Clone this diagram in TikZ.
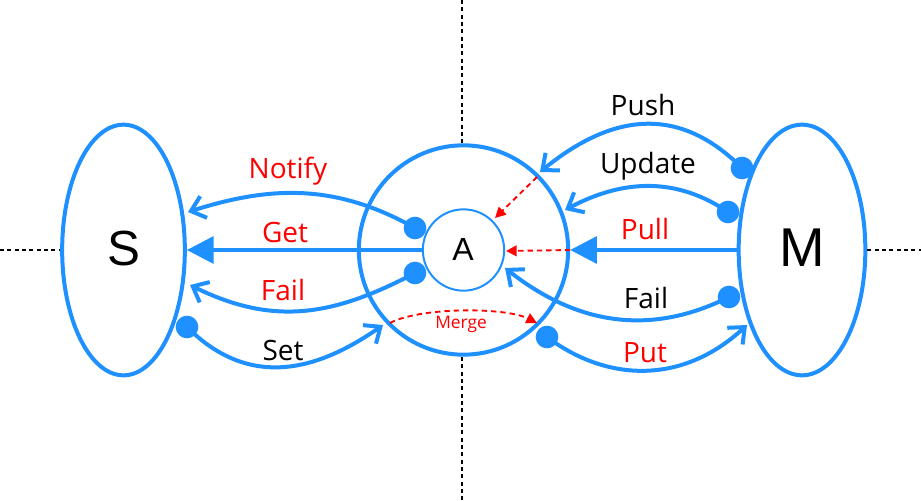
\documentclass[tikz,border=0pt]{standalone}
\usepackage{fontspec}
\setmainfont{Open Sans}
\newfontfamily\arialfont{Liberation Sans}
\usetikzlibrary{arrows.meta,shapes.geometric}
\definecolor{lblue}{RGB}{30,144,255}
\definecolor{lred}{RGB}{255,0,0}
\begin{document}
\begin{tikzpicture}[x=0.75pt,y=-0.75pt,
  bline/.style={draw=lblue,line width=3pt},
  openhead/.style={-{Straight Barb[length=10pt,width=17pt,line width=3pt]}},
  filledhead/.style={-{Triangle[length=20pt,width=20pt]}},
  reddash/.style={draw=lred,line width=1.4pt,dash pattern=on 4pt off 3pt,-{Triangle[length=8pt,width=8pt]}},
  blackdash/.style={draw=black,line width=1.1pt,dash pattern=on 3pt off 2.5pt},
  dotnode/.style={circle,fill=lblue,inner sep=0pt,minimum size=17pt},
  lbl/.style={font=\fontsize{21}{25}\selectfont,anchor=base,inner sep=0pt},
  redlbl/.style={lbl,text=lred},
  blacklbl/.style={lbl,text=black}
]
\useasboundingbox (0,0) rectangle (921,500);

% main shapes
\node[ellipse,bline,minimum width=92pt,minimum height=188pt,inner sep=0pt] (S) at (123.5,250) {};
\node[ellipse,bline,minimum width=95pt,minimum height=188pt,inner sep=0pt] (M) at (802,250) {};
\node[circle,bline,minimum size=157pt,inner sep=0pt] (O) at (463.5,250) {};
\node[circle,draw=lblue,line width=1.5pt,minimum size=61pt,inner sep=0pt] (A) at (463.5,250) {};

\node[anchor=base,inner sep=0pt,font=\arialfont\fontsize{37}{40}\selectfont] (St) at (124,265) {S};
\node[anchor=base,inner sep=0pt,font=\arialfont\fontsize{41}{44}\selectfont] (Mt) at (802,266) {M};
\node[anchor=base,inner sep=0pt,font=\arialfont\fontsize{24}{28}\selectfont] (At) at (463,260) {A};

% dashed axes
\coordinate (lt) at (0,250);
\coordinate (rt) at (921,250);
\coordinate (tp) at (462,0);
\coordinate (bt) at (462,500);
\draw[blackdash] (lt) -- (S.west);
\draw[blackdash] (M.east) -- (rt);
\draw[blackdash] (tp) -- (462,143);
\draw[blackdash] (462,357) -- (bt);

% dots
\node[dotnode] (dN) at (415,228) {};
\node[dotnode] (dF) at (415,273) {};
\node[dotnode] (dS) at (187,327) {};
\node[dotnode] (dPu) at (742,168) {};
\node[dotnode] (dU) at (728,212) {};
\node[dotnode] (dFr) at (729,297) {};
\node[dotnode] (dPt) at (547,337) {};

% arrow ends
\coordinate (eN) at (188,212);
\coordinate (eF) at (190,285);
\coordinate (eS) at (383,325);
\coordinate (ePu) at (540,172);
\coordinate (eU) at (565,210);
\coordinate (eFr) at (505,268);
\coordinate (ePt) at (747,325);

% straight arrows
\draw[bline,filledhead] (A.west) -- (S.east);
\draw[bline,filledhead] (M.west) -- (O.east);

% curved arrows
\draw[bline,openhead] (dN.center) .. controls (335,183) and (270,186) .. (eN);
\draw[bline,openhead] (dF.center) .. controls (335,315) and (275,327) .. (eF);
\draw[bline,openhead] (dS.center) .. controls (247,387) and (313,374) .. (eS);
\draw[bline,openhead] (dPu.center) .. controls (677,103) and (610,115) .. (ePu);
\draw[bline,openhead] (dU.center) .. controls (678,178) and (625,178) .. (eU);
\draw[bline,openhead] (dFr.center) .. controls (659,332) and (585,331) .. (eFr);
\draw[bline,openhead] (dPt.center) .. controls (607,382) and (682,385) .. (ePt);

% red dashed arrows
\coordinate (r1s) at (537,177);
\coordinate (r1e) at (495,218);
\coordinate (r2e) at (506,251);
\coordinate (mgs) at (390,323);
\coordinate (mge) at (537,323);
\draw[reddash] (r1s) -- (r1e);
\draw[reddash] (O.east) -- (r2e);
\draw[reddash] (mgs) .. controls (420,307) and (505,307) .. (mge);

% labels
\node[redlbl] (lN) at (288,178) {Notify};
\node[redlbl] (lG) at (285,242) {Get};
\node[redlbl] (lF) at (283,300) {Fail};
\node[blacklbl] (lS) at (283,360) {Set};
\node[blacklbl] (lPu) at (643,115) {Push};
\node[blacklbl] (lU) at (648,173) {Update};
\node[redlbl] (lPl) at (645,239) {Pull};
\node[blacklbl] (lFr) at (646,308) {Fail};
\node[redlbl] (lPt) at (645,362) {Put};
\node[anchor=base,inner sep=0pt,text=lred,font=\fontsize{13}{15}\selectfont] (lM) at (461,328) {Merge};
\end{tikzpicture}
\end{document}
